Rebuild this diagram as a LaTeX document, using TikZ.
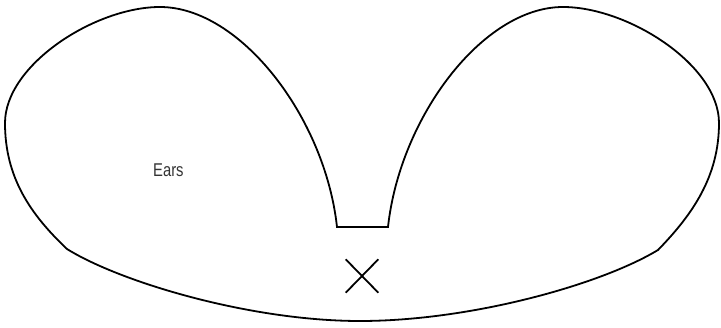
\documentclass[tikz,border=0pt]{standalone}
\usepackage{fontspec}
\newfontfamily\earsfont[FakeStretch=0.8]{Liberation Sans}
\tikzset{
  outline/.style={draw=black, line width=1.8pt, line join=miter},
  tag/.style={font=\earsfont\fontsize{18.5}{20}\selectfont, text=black!80, inner sep=0pt},
  xmark/.style={draw=black, line width=1.8pt},
}

\begin{document}
\begin{tikzpicture}[x=1pt,y=1pt]
  \useasboundingbox (0,0) rectangle (721,327);
  % the two ears and the lower rim
  \draw[outline] (67,78) .. controls (30,113) and (5,150) .. (5,204)
    .. controls (5,262) and (95,320) .. (160,320)
    .. controls (240,320) and (325,210) .. (337,100)
    -- (388,100)
    .. controls (400,210) and (483,320) .. (563,320)
    .. controls (628,320) and (719,262) .. (719,204)
    .. controls (719,150) and (692,112) .. (658,77)
    .. controls (600,42) and (470,6) .. (360,6)
    .. controls (250,6) and (120,45) .. cycle;
  \node[tag, anchor=base west] (ears) at (153,150.5) {Ears};
  % cross below the gap
  \coordinate (xa) at (345.7,67.7);
  \coordinate (xb) at (378.3,34.3);
  \coordinate (xc) at (345.7,34.3);
  \coordinate (xd) at (378.3,67.7);
  \draw[xmark] (xa) -- (xb);
  \draw[xmark] (xc) -- (xd);
\end{tikzpicture}
\end{document}
